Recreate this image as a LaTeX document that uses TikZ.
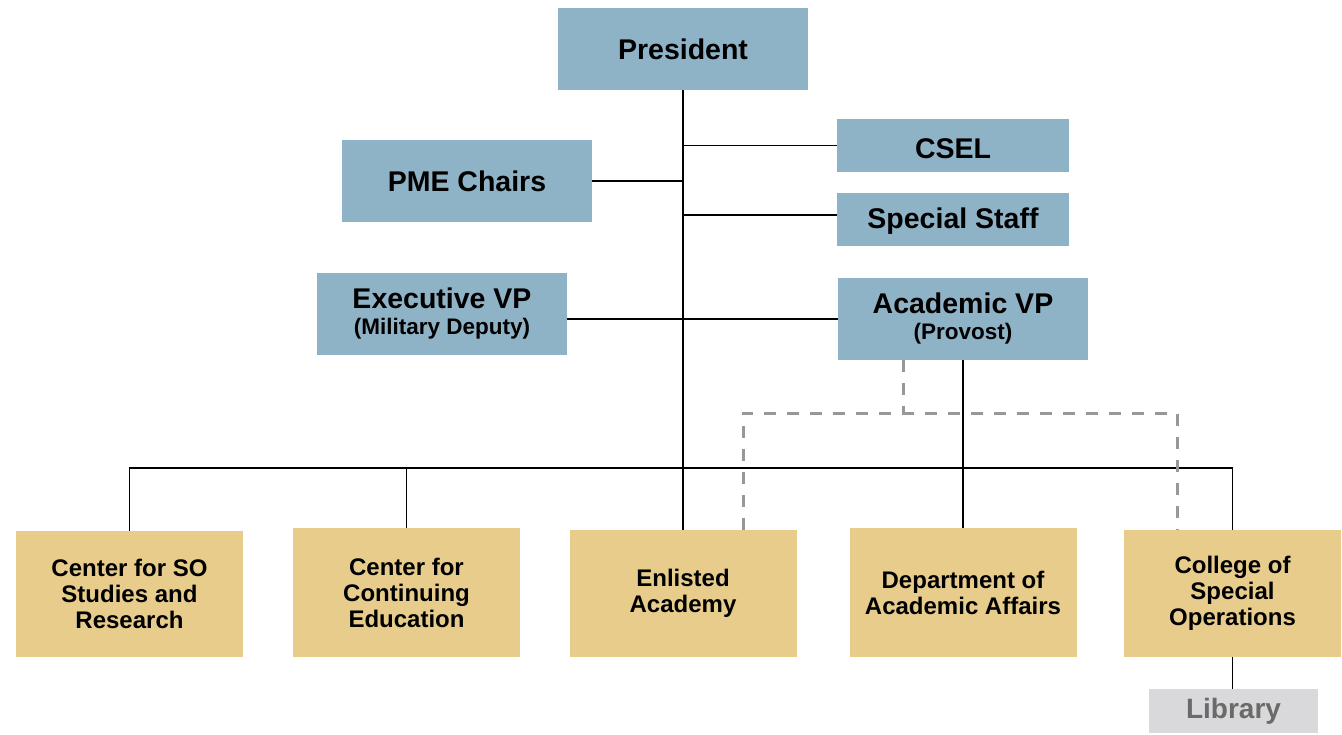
\documentclass[tikz,border=0pt]{standalone}
\usepackage{fontspec}
\setmainfont{Liberation Sans}
\definecolor{boxblue}{HTML}{8FB3C6}
\definecolor{boxgold}{HTML}{E8CC8C}
\definecolor{libgray}{HTML}{D9D9DB}
\definecolor{libtext}{HTML}{6A6A6A}
\definecolor{dashgray}{HTML}{98989C}
\newcommand{\mysubsize}{\bfseries\fontsize{22.5}{23}\selectfont}
\begin{document}
\begin{tikzpicture}[x=1pt,y=-1pt,
  box/.style={draw=none, inner sep=0pt, align=center},
  bluebox/.style={box, fill=boxblue, font=\bfseries\fontsize{28.5}{31}\selectfont},
  goldbox/.style={box, fill=boxgold, minimum width=227pt, font=\bfseries\fontsize{24}{26}\selectfont},
  libbox/.style={box, fill=libgray, text=libtext, font=\bfseries\fontsize{28}{30}\selectfont},
  solidline/.style={draw=black, line width=1.7pt},
  dashline/.style={draw=dashgray, line width=3pt, dash pattern=on 12pt off 11pt}]
\useasboundingbox (0,0) rectangle (1342,734);

\node[bluebox, minimum width=250pt, minimum height=82pt] (pres) at (683,49) {President};
\node[bluebox, minimum width=232pt, minimum height=53pt, text height=25pt, text depth=0pt] (csel) at (953,145.5) {CSEL};
\node[bluebox, minimum width=232pt, minimum height=53pt, text height=24pt, text depth=6pt] (staff) at (953,219.5) {Special Staff};
\node[bluebox, minimum width=250pt, minimum height=82pt] (pme) at (467,181) {PME Chairs};
\node[bluebox, minimum width=250pt, minimum height=82pt] (evp) at (442,314) {Executive VP\\[-5pt]{\mysubsize (Military Deputy)}};
\node[bluebox, minimum width=250pt, minimum height=82pt] (avp) at (963,319) {Academic VP\\[-5pt]{\mysubsize (Provost)}};

\node[goldbox, minimum height=126pt] (sor) at (129.5,594) {Center for SO\\Studies and\\Research};
\node[goldbox, minimum height=129pt] (cce) at (406.5,592.5) {Center for\\Continuing\\Education};
\node[goldbox, minimum height=127pt] (ea) at (683,593.5) {Enlisted\\Academy};
\node[goldbox, minimum height=129pt] (daa) at (963,592.5) {Department of\\Academic Affairs};
\node[goldbox, minimum width=217pt, minimum height=127pt] (csp) at (1232.5,593.5) {College of\\Special\\Operations};
\node[libbox, minimum width=169pt, minimum height=44pt] (lib) at (1233.5,711) {Library};

\coordinate (bus) at (683,468);
\coordinate (dv) at (903,413);
\coordinate (dL) at (743,413);
\coordinate (dR) at (1177,413);

\draw[solidline] (pres.south) -- (ea.north);
\draw[solidline] (csel.west) -- (csel.west -| pres.south);
\draw[solidline] ([yshift=4.5pt]staff.west) -- ([yshift=4.5pt]staff.west -| pres.south);
\draw[solidline] (pme.east) -- (pme.east -| pres.south);
\draw[solidline] (avp.west) -- (avp.west -| evp.east);
\draw[solidline] (sor.north) |- (bus) -| (csp.north);
\draw[solidline] (cce.north) -- (cce.north |- bus);
\draw[solidline] (avp.south) -- (daa.north);
\draw[solidline] (csp.south) -- (csp.south |- lib.north);

\draw[dashline] (dv |- avp.south) -- (dv);
\draw[dashline] (dL |- ea.north) -- (dL) -- (dR) -- (dR |- csp.north);
\end{tikzpicture}
\end{document}
